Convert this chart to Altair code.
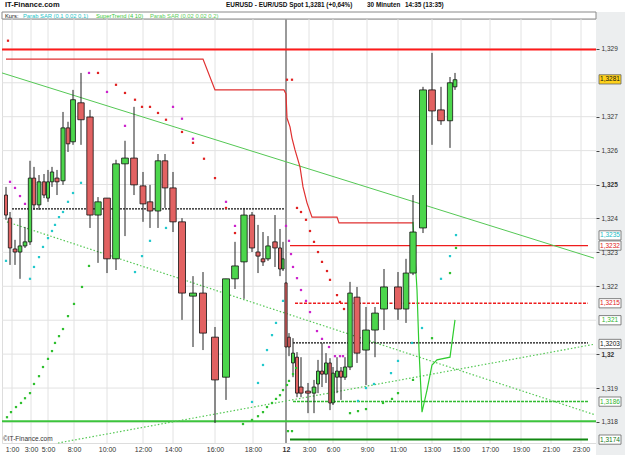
import altair as alt
import pandas as pd
import numpy as np

# ---------------- data ----------------
# candle slots (positions on the chart's time axis)
candle_slot = [6, 10, 15, 20, 25, 30, 34, 39, 44, 48, 52, 57, 63, 68, 73, 81, 90, 98, 107, 116,
               125, 134, 143, 150, 158, 165, 173, 182, 193, 203, 215, 226, 235, 244, 252, 258,
               263, 268, 275, 280, 283,
               286, 289, 293, 297, 301, 308, 314, 318, 322, 326, 330, 333, 337, 341, 345, 350,
               357, 366, 375, 384, 398, 406, 413, 423, 432, 441, 450, 455]
candle_open = [1.32469, 1.32401, 1.32310, 1.32301, 1.32319, 1.32331, 1.32519, 1.32440, 1.32508, 1.32460,
               1.32508, 1.32519, 1.32511, 1.32667, 1.32626, 1.32741, 1.32699, 1.32410, 1.32460, 1.32281,
               1.32561, 1.32578, 1.32496, 1.32449, 1.32422, 1.32570, 1.32490, 1.32390, 1.32171, 1.32180,
               1.32050, 1.31932, 1.32222, 1.32272, 1.32410, 1.32301, 1.32281, 1.32281, 1.32331, 1.32313,
               1.32251,
               1.32210, 1.32050, 1.31974, 1.31991, 1.31903, 1.31891, 1.31885, 1.31912, 1.31950, 1.31941,
               1.31974, 1.31856, 1.31932, 1.31950, 1.31932, 1.31962, 1.32168, 1.32012, 1.32071, 1.32133,
               1.32198, 1.32133, 1.32239, 1.32372, 1.32779, 1.32720, 1.32688, 1.32788]
candle_high = [1.32493, 1.32419, 1.32337, 1.32401, 1.32375, 1.32570, 1.32552, 1.32528, 1.32531, 1.32543,
               1.32552, 1.32543, 1.32714, 1.32685, 1.32779, 1.32829, 1.32720, 1.32463, 1.32460, 1.32573,
               1.32629, 1.32729, 1.32537, 1.32499, 1.32590, 1.32590, 1.32537, 1.32401, 1.32230, 1.32242,
               1.32080, 1.32222, 1.32331, 1.32431, 1.32419, 1.32381, 1.32360, 1.32348, 1.32410, 1.32369,
               1.32331,
               1.32210, 1.32062, 1.32047, 1.32006, 1.31991, 1.31915, 1.31924, 1.31983, 1.32033, 1.32003,
               1.31988, 1.31962, 1.31991, 1.31962, 1.31991, 1.32213, 1.32198, 1.32139, 1.32139, 1.32251,
               1.32242, 1.32281, 1.32469, 1.32788, 1.32888, 1.32788, 1.32817, 1.32829]
candle_low = [1.32396, 1.32263, 1.32263, 1.32222, 1.32313, 1.32322, 1.32425, 1.32425, 1.32460, 1.32449,
              1.32493, 1.32469, 1.32499, 1.32596, 1.32617, 1.32617, 1.32372, 1.32269, 1.32239, 1.32248,
              1.32348, 1.32469, 1.32390, 1.32372, 1.32372, 1.32431, 1.32360, 1.32101, 1.32021, 1.32012,
              1.31797, 1.31865, 1.32192, 1.32163, 1.32301, 1.32239, 1.32260, 1.32275, 1.32257, 1.32230,
              1.32245,
              1.32021, 1.31994, 1.31932, 1.31873, 1.31873, 1.31826, 1.31826, 1.31885, 1.31903, 1.31915,
              1.31835, 1.31850, 1.31885, 1.31865, 1.31924, 1.31953, 1.31974, 1.31909, 1.31991, 1.32071,
              1.32101, 1.32092, 1.32233, 1.32357, 1.32617, 1.32676, 1.32608, 1.32779]
candle_close = [1.32410, 1.32313, 1.32301, 1.32319, 1.32331, 1.32519, 1.32440, 1.32508, 1.32469, 1.32508,
                1.32537, 1.32508, 1.32667, 1.32620, 1.32750, 1.32691, 1.32410, 1.32449, 1.32281, 1.32561,
                1.32578, 1.32499, 1.32443, 1.32422, 1.32570, 1.32490, 1.32390, 1.32180, 1.32180, 1.32062,
                1.31924, 1.32222, 1.32260, 1.32410, 1.32313, 1.32289, 1.32272, 1.32319, 1.32313, 1.32251,
                1.32281,
                1.32021, 1.32021, 1.32003, 1.31885, 1.31885, 1.31885, 1.31903, 1.31950, 1.31941, 1.31974,
                1.31856, 1.31944, 1.31950, 1.31932, 1.31962, 1.32180, 1.32003, 1.32071, 1.32121, 1.32198,
                1.32133, 1.32239, 1.32360, 1.32779, 1.32717, 1.32688, 1.32800, 1.32809]

# time axis
tick_slot = [12, 31, 48, 74, 107, 143, 173, 215, 253, 286, 309, 333, 367, 398, 432, 461, 490, 521, 551, 581]
tick_label = ['1:00', '3:00', '5:00', '8:00', '10:00', '12:00', '14:00', '16:00', '18:00', '12',
              '3:00', '6:00', '9:00', '11:00', '13:00', '15:00', '17:00', '19:00', '21:00', '23:00']
day_break = [286]

# price axis
price_grid = [1.318, 1.319, 1.320, 1.321, 1.322, 1.323, 1.324, 1.325, 1.326, 1.327, 1.328, 1.329]
price_labels = [1.318, 1.319, 1.320, 1.322, 1.323, 1.324, 1.325, 1.326, 1.327, 1.329]

# Parabolic SAR (0,1 0,02 0,1): below price (cyan) / above price (magenta)
sar_fast_below_slot = [6, 30, 34, 39, 43, 48, 52, 55, 59, 63, 68, 73, 81, 135, 142, 150, 166,
                       252, 258, 263, 267, 272, 276, 283, 358, 366, 374, 391, 398, 412, 422, 441, 450, 456]
sar_fast_below_val = [1.32275, 1.32222, 1.32257, 1.32286, 1.32316, 1.32342, 1.32363, 1.32381, 1.32404,
                      1.32419, 1.32449, 1.32475, 1.32505, 1.32242, 1.32289, 1.32334, 1.32372,
                      1.31859, 1.31915, 1.31968, 1.32012, 1.32056, 1.32092, 1.32157,
                      1.31862, 1.31900, 1.31912, 1.31944, 1.31980, 1.32033, 1.32077, 1.32222, 1.32289, 1.32351]
sar_fast_above_slot = [10, 15, 20, 25, 89, 107, 125, 173, 182, 193, 226, 235,
                       286, 289, 291, 293, 297, 301, 306, 310, 317, 322, 329, 335, 340, 343]
sar_fast_above_val = [1.32508, 1.32490, 1.32466, 1.32443, 1.32829, 1.32773, 1.32673, 1.32729, 1.32694,
                      1.32635, 1.32449, 1.32378,
                      1.32378, 1.32334, 1.32295, 1.32257, 1.32224, 1.32189, 1.32157, 1.32124, 1.32068,
                      1.32045, 1.32021, 1.31994, 1.31994, 1.31994]
# Parabolic SAR (0,02 0,02 0,2): below price (green) / above price (red)
sar_slow_below_slot = [7, 11, 16, 21, 25, 30, 34, 39, 43, 48, 52, 55, 59, 63, 68, 74, 82, 89,
                       243, 252, 258, 263, 267, 272, 276, 280, 283, 287, 289, 293, 296, 288, 292,
                       350, 358, 366, 383, 392, 398, 413, 432, 450, 456]
sar_slow_below_val = [1.31814, 1.31829, 1.31844, 1.31856, 1.31870, 1.31885, 1.31912, 1.31935, 1.31962,
                      1.31986, 1.32009, 1.32033, 1.32053, 1.32074, 1.32112, 1.32148, 1.32198, 1.32260,
                      1.31794, 1.31806, 1.31817, 1.31829, 1.31844, 1.31856, 1.31868, 1.31879, 1.31894,
                      1.31909, 1.31921, 1.31941, 1.31959, 1.31773, 1.31773,
                      1.31826, 1.31832, 1.31838, 1.31856, 1.31868, 1.31885, 1.31924, 1.32047, 1.32239, 1.32313]
sar_slow_above_slot = [8, 98, 116, 125, 135, 142, 150, 158, 166, 182, 193, 204, 215, 226, 235,
                       287, 292, 297, 301, 306, 310, 314, 318, 322, 327, 330, 337, 340, 344]
sar_slow_above_val = [1.32924, 1.32829, 1.32794, 1.32770, 1.32750, 1.32729, 1.32729, 1.32711, 1.32691,
                      1.32655, 1.32623, 1.32576, 1.32519, 1.32431, 1.32357,
                      1.32809, 1.32809, 1.32431, 1.32419, 1.32396, 1.32363, 1.32331, 1.32301, 1.32272,
                      1.32245, 1.32219, 1.32174, 1.32154, 1.32133]

# SuperTrend (4 10)
st_down_slot = [6, 203, 215, 284, 286, 287, 290, 292, 295, 300, 303, 307, 312, 337, 339, 413]
st_down_val = [1.32870, 1.32870, 1.32779, 1.32779, 1.32767, 1.32696, 1.32670, 1.32637, 1.32602,
               1.32552, 1.32493, 1.32446, 1.32404, 1.32404, 1.32387, 1.32387]
st_up_slot = [413, 417, 419, 422, 427, 432, 437, 450, 455]
st_up_val = [1.32390, 1.32189, 1.32012, 1.31829, 1.31894, 1.31968, 1.31983, 1.31991, 1.32101]

# trend lines
trend_main_slot = [2, 594]
trend_main_val = [1.32829, 1.32283]
trend_dn_slot = [7, 594]
trend_dn_val = [1.32390, 1.31822]
trend_up_slot = [58, 594]
trend_up_val = [1.31738, 1.32029]

# horizontal levels
level_val = [1.32898, 1.31802, 1.32428, 1.32033, 1.32320, 1.32150, 1.31860, 1.31748]
level_from = [2, 2, 12, 293, 290, 295, 293, 290]
level_to = [596, 596, 285, 588, 588, 588, 588, 588]

# value boxes on the price axis
box_val = [1.32810, 1.32350, 1.32320, 1.32150, 1.32100, 1.32030, 1.31860, 1.31748]
box_text = ['1,3281', '1,3235', '1,3232', '1,3215', '1,321', '1,3203', '1,3186', '1,3174']

# ---------------- styles ----------------
FONT = 'Liberation Sans'
W, H = 594, 424
xs = alt.Scale(domain=[2, 596], nice=False, zero=False)
ys = alt.Scale(domain=[1.31738, 1.32988], nice=False, zero=False)

xlab_expr = "[" + ",".join("'" + t + "'" for t in tick_label) + "][indexof([" + \
    ",".join(str(v) for v in tick_slot) + "], datum.value)]"
x_axis = alt.Axis(values=tick_slot, labelExpr=xlab_expr, orient='bottom', grid=False, domain=False,
                  ticks=False, labelPadding=2, labelFontSize=7, labelFont=FONT, labelColor='#333',
                  labelFontWeight={'condition': {'test': 'datum.value == 286', 'value': 'bold'}, 'value': 'normal'},
                  labelOverlap=False, labelFlush=False, title=None, zindex=1)
y_axis = alt.Axis(values=price_labels, labelExpr="replace(format(datum.value, '.4~f'), '.', ',')",
                  orient='right', grid=False, domain=False, ticks=True, tickSize=3, tickColor='#444',
                  labelPadding=2, labelFontSize=6.5, labelFont=FONT, labelColor='#333',
                  labelFontWeight={'condition': {'test': 'abs(datum.value - 1.325) < 0.00001 || abs(datum.value - 1.32) < 0.00001',
                                                 'value': 'bold'}, 'value': 'normal'},
                  labelOverlap=False, title=None, zindex=1)


def X(f, **kw):
    return alt.X(f, type='quantitative', scale=xs, axis=x_axis, **kw)


def Y(f, **kw):
    return alt.Y(f, type='quantitative', scale=ys, axis=y_axis, **kw)


# candles table
cd = pd.DataFrame({'slot': candle_slot, 'o': candle_open, 'h': candle_high,
                   'l': candle_low, 'c': candle_close})
s = cd['slot'].to_numpy(float)
g = np.diff(s)
prev = np.concatenate([[g[0]], g])
nxt = np.concatenate([g, [g[-1]]])
w = np.clip(0.75 * (prev + nxt) / 2.0, 2.2, 7.0)
cd['xl'] = s - w / 2
cd['xr'] = s + w / 2
cd['top'] = cd[['o', 'c']].max(axis=1)
cd['bot'] = cd[['o', 'c']].min(axis=1)
cd['fill'] = np.where(cd['c'] >= cd['o'], '#4cd64c', '#e26262')

layers = []

# grey strip behind the price axis
layers.append(alt.Chart(pd.DataFrame({'a': [0]})).mark_rect(color='#eceeef').encode(
    x=alt.value(594), x2=alt.value(623), y=alt.value(-7), y2=alt.value(436)))
# legend row frame
layers.append(alt.Chart(pd.DataFrame({'a': [0]})).mark_rect(fill='white', stroke='#8a8a8a', strokeWidth=1).encode(
    x=alt.value(0), x2=alt.value(594), y=alt.value(-7), y2=alt.value(0)))

# grid
layers.append(alt.Chart(pd.DataFrame({'slot': tick_slot})).mark_rule(color='#e2e2e2', strokeWidth=1).encode(
    x=X('slot:Q')))
layers.append(alt.Chart(pd.DataFrame({'p': price_grid})).mark_rule(color='#e2e2e2', strokeWidth=1).encode(
    y=Y('p:Q')))
layers.append(alt.Chart(pd.DataFrame({'slot': day_break})).mark_rule(color='#9a9a9a', strokeWidth=2).encode(
    x=X('slot')))

# horizontal levels
lv = pd.DataFrame({'v': level_val, 'a': level_from, 'b': level_to})
level_styles = [
    dict(color='#ff1a1a', strokeWidth=2),
    dict(color='#3cc43c', strokeWidth=2),
    dict(color='#111111', strokeWidth=1.3, strokeDash=[2, 1]),
    dict(color='#111111', strokeWidth=1.3, strokeDash=[2, 1]),
    dict(color='#ee1c1c', strokeWidth=1.3),
    dict(color='#ee1c1c', strokeWidth=1.3, strokeDash=[3, 1.5]),
    dict(color='#33bb33', strokeWidth=1.5, strokeDash=[3, 1]),
    dict(color='#118811', strokeWidth=2),
]
for i, st in enumerate(level_styles):
    layers.append(alt.Chart(lv.iloc[[i]]).mark_rule(**st).encode(x=X('a'), x2='b', y=Y('v')))


def line_df(sl, vl):
    return pd.DataFrame({'slot': sl, 'v': vl})


# trend lines
layers.append(alt.Chart(line_df(trend_main_slot, trend_main_val)).mark_line(color='#55c855', strokeWidth=1).encode(
    x=X('slot'), y=Y('v')))
layers.append(alt.Chart(line_df(trend_dn_slot, trend_dn_val)).mark_line(color='#55c855', strokeWidth=1.2,
                                                                        strokeDash=[1.5, 2]).encode(x=X('slot'), y=Y('v')))
layers.append(alt.Chart(line_df(trend_up_slot, trend_up_val)).mark_line(color='#55c855', strokeWidth=1.2,
                                                                        strokeDash=[1.5, 2]).encode(x=X('slot'), y=Y('v')))
# SuperTrend
layers.append(alt.Chart(line_df(st_down_slot, st_down_val)).mark_line(color='#e03030', strokeWidth=1.2).encode(
    x=X('slot', sort=None), y=Y('v')))
layers.append(alt.Chart(line_df(st_up_slot, st_up_val)).mark_line(color='#2ecc2e', strokeWidth=1.2).encode(
    x=X('slot', sort=None), y=Y('v')))

# candles
layers.append(alt.Chart(cd).mark_rule(color='#222', strokeWidth=1).encode(x=X('slot'), y=Y('l'), y2='h'))
layers.append(alt.Chart(cd).mark_bar(stroke='#111', strokeWidth=0.8).encode(
    x=X('xl'), x2='xr', y=Y('bot'), y2='top', color=alt.Color('fill:N', scale=None)))

# SAR dots
for sl, vl, col in [(sar_fast_below_slot, sar_fast_below_val, '#22c8cc'),
                    (sar_fast_above_slot, sar_fast_above_val, '#cc22cc'),
                    (sar_slow_below_slot, sar_slow_below_val, '#2fbf2f'),
                    (sar_slow_above_slot, sar_slow_above_val, '#e02222')]:
    layers.append(alt.Chart(line_df(sl, vl)).mark_square(size=5, color=col, opacity=1).encode(
        x=X('slot'), y=Y('v')))

# value boxes on the price axis
bx = pd.DataFrame({'v': box_val, 't': box_text,
                   'fill': ['#ffd21a'] + ['white'] * 7,
                   'tc': ['#111', '#22bcc4', '#e01818', '#e01818', '#2fb52f', '#111', '#2fb52f', '#117711']})
box_shape = 'M-1,-0.42 L1,-0.42 L1,0.42 L-1,0.42 Z'
layers.append(alt.Chart(bx).mark_point(shape=box_shape, size=484, filled=True, stroke='#666',
                                       strokeWidth=0.8, opacity=1).encode(
    x=alt.value(608), y=Y('v'), fill=alt.Fill('fill:N', scale=None)))
layers.append(alt.Chart(bx).mark_text(fontSize=6.5, font=FONT, align='center', baseline='middle').encode(
    x=alt.value(608), y=Y('v'), text='t:N', color=alt.Color('tc:N', scale=None)))

# header texts
hdr = pd.DataFrame({
    't': ['IT-Finance.com', 'EURUSD - EUR/USD Spot', '1,3281 (+0,64%)', '30 Minuten', '14:35 (13:35)'],
    'x': [3, 224, 303, 365, 403],
    'fs': [7.5, 6.4, 6.4, 6.4, 6.4]})
layers.append(alt.Chart(hdr).mark_text(fontWeight='bold', font=FONT, align='left',
                                       baseline='middle', color='#111').encode(
    x=alt.X('x:Q', scale=None), y=alt.value(-14), text='t:N', size=alt.Size('fs:Q', scale=None)))
leg = pd.DataFrame({'t': ['Kurs:', 'Parab SAR (0,1 0,02 0,1)', 'SuperTrend (4 10)', 'Parab SAR (0,02 0,02 0,2)'],
                    'x': [3, 21, 94, 148],
                    'c': ['#111', '#25c4c8', '#3cc83c', '#5ccc5c']})
layers.append(alt.Chart(leg).mark_text(fontSize=5.8, font=FONT, align='left', baseline='middle').encode(
    x=alt.X('x:Q', scale=None), y=alt.value(-3.5), text='t:N', color=alt.Color('c:N', scale=None)))
layers.append(alt.Chart(pd.DataFrame({'t': ['\u00a9IT-Finance.com']})).mark_text(
    fontSize=6.5, font=FONT, align='left', baseline='middle', color='#333').encode(
    x=alt.value(1), y=alt.value(420), text='t:N'))

chart = alt.layer(*layers).properties(
    width=W, height=H,
    padding={'left': 2, 'top': 19, 'right': 29, 'bottom': 12},
    autosize=alt.AutoSizeParams(type='none'),
).configure_view(stroke='#555', strokeWidth=1.5, fill='white').configure(background='white')

chart.save('out.html', embed_options={'renderer': 'svg', 'actions': False})
